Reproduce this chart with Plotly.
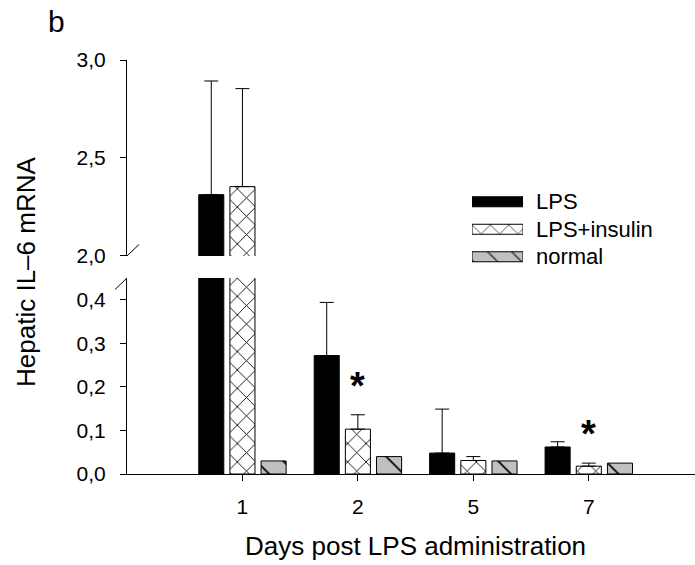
import plotly.graph_objects as go

# ---- data ----
days = ["1", "2", "5", "7"]
lps = [2.313, 0.272, 0.048, 0.062]
lps_err = [0.580, 0.122, 0.101, 0.012]
lps_ins = [2.354, 0.103, 0.031, 0.018]
lps_ins_err = [0.500, 0.033, 0.009, 0.007]
normal = [0.030, 0.040, 0.030, 0.025]
significant = [False, True, False, True]

series_names = ["LPS", "LPS+insulin", "normal"]
lower_ticks = [0.0, 0.1, 0.2, 0.3, 0.4]
lower_ticktext = ["0,0", "0,1", "0,2", "0,3", "0,4"]
upper_ticks = [2.0, 2.5, 3.0]
upper_ticktext = ["2,0", "2,5", "3,0"]

FONT = "Arial, Liberation Sans, sans-serif"
GRAY = "#c0c0c0"

styles = {
    "LPS": dict(color="black", pattern=dict(shape="")),
    "LPS+insulin": dict(color="white", pattern=dict(shape="x", size=13, solidity=0.13,
                                                     fgcolor="black", fgopacity=1,
                                                     bgcolor="white")),
    "normal": dict(color=GRAY, pattern=dict(shape="\\", size=19, solidity=0.09,
                                            fgcolor="black", fgopacity=1, bgcolor=GRAY)),
}
values = {"LPS": lps, "LPS+insulin": lps_ins, "normal": normal}
errors = {"LPS": lps_err, "LPS+insulin": lps_ins_err, "normal": None}

fig = go.Figure()
for yax in ["y", "y2"]:
    for name in series_names:
        st = styles[name]
        err = errors[name]
        fig.add_trace(go.Bar(
            x=days, y=values[name], name=name, xaxis="x", yaxis=yax,
            marker=dict(color=st["color"], pattern=st["pattern"],
                        line=dict(color="black", width=1)),
            error_y=(dict(type="data", array=err, arrayminus=[0] * len(err),
                          symmetric=False, color="black", thickness=1, width=7)
                     if err is not None else dict(visible=False)),
            showlegend=False, hoverinfo="skip",
        ))

# legend swatches drawn as horizontal bars on their own small axes
fig.add_trace(go.Bar(
    x=[1, 1, 1], y=[0, 1, 2], orientation="h", xaxis="x3", yaxis="y3", width=0.364,
    marker=dict(
        color=[styles[n]["color"] for n in series_names],
        pattern=dict(shape=["", "x", "\\"], size=[13, 13, 17], solidity=[0.1, 0.13, 0.09],
                     fgcolor=["black", "black", "black"], fgopacity=1,
                     bgcolor=["black", "white", GRAY]),
        line=dict(color="black", width=1)),
    showlegend=False, hoverinfo="skip",
))

annotations = []
for i, n in enumerate(series_names):
    annotations.append(dict(x=1, y=i, xref="x3", yref="y3", text=n, showarrow=False,
                            xanchor="left", yanchor="middle", xshift=11,
                            font=dict(family=FONT, size=22, color="black")))

for i, (v, e, s) in enumerate(zip(lps_ins, lps_ins_err, significant)):
    if s:
        annotations.append(dict(x=i, y=v + e + 0.08, xref="x", yref="y", text="<b>*</b>",
                                showarrow=False, xanchor="center", yanchor="middle",
                                yshift=-6, font=dict(family=FONT, size=38, color="black")))

annotations += [
    dict(x=-0.1778, y=0.488, xref="paper", yref="paper", text="Hepatic IL\u20136 mRNA",
         textangle=-90, showarrow=False, xanchor="center", yanchor="middle",
         font=dict(family=FONT, size=26, color="black")),
    dict(x=0.508, y=-0.174, xref="paper", yref="paper", text="Days post LPS administration",
         showarrow=False, xanchor="center", yanchor="middle",
         font=dict(family=FONT, size=26, color="black")),
    dict(x=-0.143, y=1.092, xref="paper", yref="paper", text="b",
         showarrow=False, xanchor="left", yanchor="middle",
         font=dict(family=FONT, size=30, color="black")),
]

# axis break marks
shapes = [
    dict(type="line", xref="paper", yref="y2", xsizemode="pixel", ysizemode="pixel",
         xanchor=0, yanchor=2.0, x0=-12, x1=12, y0=-11.5, y1=11.5,
         line=dict(color="black", width=1)),
    dict(type="line", xref="paper", yref="y", xsizemode="pixel", ysizemode="pixel",
         xanchor=0, yanchor=0.45, x0=-12, x1=12, y0=-11.5, y1=11.5,
         line=dict(color="black", width=1)),
]

axis_common = dict(showgrid=False, zeroline=False, showline=True, linecolor="black",
                   linewidth=1, ticks="outside", ticklen=6, tickcolor="black", tickwidth=1,
                   tickfont=dict(family=FONT, size=21, color="black"))

fig.update_layout(
    width=695, height=565,
    margin=dict(l=127, r=0, t=60, b=91),
    paper_bgcolor="white", plot_bgcolor="rgba(0,0,0,0)",
    barmode="group", bargap=0.19, bargroupgap=0.196,
    showlegend=False,
    xaxis=dict(**axis_common, type="category", range=[-1, 3.92], anchor="y",
               ticklabelstandoff=8),
    yaxis=dict(**axis_common, domain=[0, 0.4734], range=[0, 0.45], anchor="x",
               tickvals=lower_ticks, ticktext=lower_ticktext, ticklabelstandoff=10),
    yaxis2=dict(**axis_common, domain=[0.5266, 1], range=[2.0, 3.0], anchor="x",
                tickvals=upper_ticks, ticktext=upper_ticktext, ticklabelstandoff=10),
    xaxis3=dict(domain=[0.6074, 0.6972], range=[0, 1], visible=False, anchor="y3"),
    yaxis3=dict(domain=[0.4915, 0.6908], range=[2.5, -0.5], visible=False, anchor="x3"),
    annotations=annotations,
    shapes=shapes,
)

fig.write_html("out.html")
